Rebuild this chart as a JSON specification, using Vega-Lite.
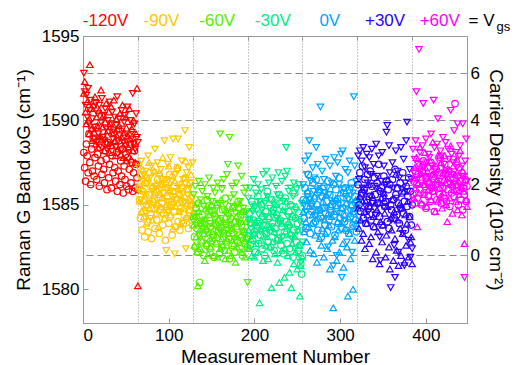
{
"$schema": "https://vega.github.io/schema/vega-lite/v6.json",
"width": 384, "height": 287,
"autosize": {"type": "none"},
"padding": {"left": 83, "top": 36, "right": 48, "bottom": 42},
"config": {
  "font": "Liberation Sans",
  "view": {"stroke": "#999"},
  "axis": {"titleFontWeight": "normal", "labelColor": "#000", "titleColor": "#000", "domainColor": "#999", "tickColor": "#999", "labelFontSize": 17, "titleFontSize": 19, "grid": false}
},
"resolve": {"axis": {"x": "independent", "y": "independent"}},
"layer": [
{
  "data": {"values": "x,y,s\n1,1588.1,o\n2,1587.2,o\n3,1586.4,o\n4,1588.6,o\n5,1587.9,o\n6,1586.9,o\n7,1589.2,o\n8,1587.5,o\n9,1586.2,o\n10,1588.3,o\n11,1587.0,o\n12,1588.9,o\n13,1586.7,o\n14,1587.8,o\n15,1589.6,o\n16,1586.5,o\n17,1588.0,o\n18,1587.3,o\n19,1586.1,o\n20,1588.4,o\n21,1587.6,o\n22,1586.8,o\n23,1589.0,o\n24,1587.1,o\n25,1586.3,o\n26,1588.2,o\n27,1587.7,o\n28,1585.9,o\n29,1588.7,o\n30,1586.6,o\n31,1587.4,o\n32,1588.5,o\n33,1586.0,o\n34,1587.9,o\n35,1586.9,o\n36,1589.3,o\n37,1587.2,o\n38,1586.4,o\n39,1588.1,o\n40,1585.8,o\n41,1587.0,o\n42,1588.8,o\n43,1586.2,o\n44,1587.6,o\n45,1586.7,o\n46,1588.3,o\n47,1585.7,o\n48,1587.3,o\n49,1586.5,o\n50,1588.0,o\n51,1586.1,o\n52,1587.8,o\n53,1585.9,o\n54,1587.1,o\n55,1588.6,o\n56,1586.3,o\n57,1587.5,o\n58,1585.8,o\n59,1586.9,o\n60,1588.2,o\n61,1586.0,o\n62,1587.4,o\n63,1586.6,o\n64,1585.9,o\n1,1592.8,d\n2,1591.7,d\n3,1590.9,d\n4,1591.5,d\n5,1590.2,d\n6,1591.9,d\n7,1589.8,d\n8,1590.6,d\n9,1591.2,d\n10,1589.4,d\n11,1590.1,d\n12,1588.9,d\n13,1590.8,d\n14,1589.6,d\n15,1591.0,d\n16,1588.7,d\n17,1590.4,d\n18,1589.2,d\n19,1590.9,d\n20,1588.5,d\n21,1589.9,d\n22,1591.3,d\n23,1589.0,d\n24,1590.3,d\n25,1588.8,d\n26,1590.7,d\n27,1589.5,d\n28,1588.3,d\n29,1590.0,d\n30,1589.3,d\n31,1591.1,d\n32,1588.6,d\n33,1589.8,d\n34,1590.5,d\n35,1588.9,d\n36,1589.4,d\n37,1590.2,d\n38,1588.4,d\n39,1589.7,d\n40,1591.4,d\n41,1588.8,d\n42,1590.1,d\n43,1589.1,d\n44,1588.2,d\n45,1590.6,d\n46,1589.5,d\n47,1588.7,d\n48,1589.9,d\n49,1590.3,d\n50,1588.5,d\n51,1589.2,d\n52,1590.8,d\n53,1588.1,d\n54,1589.6,d\n55,1590.0,d\n56,1588.9,d\n57,1589.3,d\n58,1591.6,d\n59,1588.6,d\n60,1589.8,d\n61,1588.3,d\n62,1590.4,d\n63,1589.0,d\n64,1588.7,d\n1,1591.6,u\n2,1592.3,u\n3,1590.5,u\n4,1589.8,u\n5,1591.1,u\n6,1590.0,u\n7,1589.2,u\n8,1593.3,u\n9,1590.7,u\n10,1589.5,u\n11,1588.8,u\n12,1590.9,u\n13,1589.3,u\n14,1591.4,u\n15,1588.6,u\n16,1590.2,u\n17,1589.7,u\n18,1588.4,u\n19,1590.6,u\n20,1589.1,u\n21,1591.8,u\n22,1588.9,u\n23,1589.6,u\n24,1590.3,u\n25,1588.2,u\n26,1589.9,u\n27,1591.0,u\n28,1588.7,u\n29,1589.4,u\n30,1590.5,u\n31,1588.1,u\n32,1589.8,u\n33,1590.8,u\n34,1588.5,u\n35,1589.2,u\n36,1591.2,u\n37,1588.8,u\n38,1587.9,u\n39,1590.1,u\n40,1589.5,u\n41,1588.3,u\n42,1589.7,u\n43,1590.4,u\n44,1588.0,u\n45,1589.0,u\n46,1590.9,u\n47,1587.8,u\n48,1589.3,u\n49,1588.6,u\n50,1590.2,u\n51,1587.6,u\n52,1589.1,u\n53,1588.4,u\n54,1590.7,u\n55,1588.9,u\n56,1587.7,u\n57,1589.5,u\n58,1588.2,u\n59,1590.0,u\n60,1588.7,u\n61,1587.5,u\n62,1589.2,u\n63,1591.9,u\n64,1580.2,u\n65,1586.1,o\n66,1585.3,o\n67,1584.2,o\n68,1586.7,o\n69,1583.5,o\n70,1585.8,o\n71,1584.6,o\n72,1583.1,o\n73,1586.3,o\n74,1585.0,o\n75,1584.0,o\n76,1583.4,o\n77,1585.6,o\n78,1586.9,o\n79,1584.4,o\n80,1583.0,o\n81,1585.2,o\n82,1586.0,o\n83,1584.8,o\n84,1583.6,o\n85,1585.9,o\n86,1584.1,o\n87,1586.5,o\n88,1585.4,o\n89,1583.3,o\n90,1584.7,o\n91,1586.2,o\n92,1585.1,o\n93,1583.8,o\n94,1584.5,o\n95,1585.7,o\n96,1582.9,o\n97,1586.4,o\n98,1584.9,o\n99,1585.5,o\n100,1583.9,o\n101,1586.8,o\n102,1584.3,o\n103,1585.0,o\n104,1583.2,o\n105,1585.8,o\n106,1586.1,o\n107,1584.6,o\n108,1583.7,o\n109,1585.3,o\n110,1587.2,o\n111,1584.0,o\n112,1585.6,o\n113,1583.5,o\n114,1584.8,o\n115,1586.0,o\n116,1585.2,o\n117,1583.9,o\n118,1584.4,o\n119,1586.6,o\n120,1585.1,o\n121,1584.2,o\n122,1585.9,o\n123,1583.6,o\n124,1584.7,o\n125,1586.3,o\n126,1585.4,o\n127,1584.1,o\n128,1583.8,o\n65,1587.2,d\n66,1586.0,d\n67,1585.3,d\n68,1587.6,d\n69,1586.4,d\n70,1584.9,d\n71,1586.8,d\n72,1585.6,d\n73,1587.0,d\n74,1584.5,d\n75,1586.2,d\n76,1587.9,d\n77,1585.1,d\n78,1586.6,d\n79,1584.2,d\n80,1587.3,d\n81,1585.8,d\n82,1586.9,d\n83,1585.0,d\n84,1588.3,d\n85,1586.1,d\n86,1584.7,d\n87,1587.5,d\n88,1585.4,d\n89,1586.7,d\n90,1585.9,d\n91,1587.1,d\n92,1584.4,d\n93,1586.3,d\n94,1585.7,d\n95,1588.8,d\n96,1586.5,d\n97,1582.3,d\n98,1585.2,d\n99,1587.4,d\n100,1586.0,d\n101,1584.8,d\n102,1587.8,d\n103,1585.5,d\n104,1586.4,d\n105,1588.9,d\n106,1585.0,d\n107,1582.1,d\n108,1586.8,d\n109,1585.3,d\n110,1587.0,d\n111,1588.9,d\n112,1584.6,d\n113,1586.2,d\n114,1585.8,d\n115,1587.6,d\n116,1583.9,d\n117,1586.5,d\n118,1585.1,d\n119,1589.4,d\n120,1582.4,d\n121,1586.9,d\n122,1585.6,d\n123,1587.2,d\n124,1588.4,d\n125,1584.9,d\n126,1586.3,d\n127,1585.4,d\n128,1587.5,d\n65,1586.0,u\n66,1585.2,u\n67,1586.8,u\n68,1584.6,u\n69,1585.9,u\n70,1587.1,u\n71,1584.3,u\n72,1585.5,u\n73,1586.4,u\n74,1583.9,u\n75,1585.0,u\n76,1586.6,u\n77,1587.5,u\n78,1584.8,u\n79,1585.7,u\n80,1586.1,u\n81,1584.1,u\n82,1585.3,u\n83,1587.0,u\n84,1585.8,u\n85,1584.5,u\n86,1586.3,u\n87,1585.1,u\n88,1583.7,u\n89,1586.9,u\n90,1585.6,u\n91,1584.9,u\n92,1586.2,u\n93,1587.8,u\n94,1585.4,u\n95,1584.2,u\n96,1586.5,u\n97,1585.0,u\n98,1586.0,u\n99,1584.7,u\n100,1587.3,u\n101,1585.9,u\n102,1584.4,u\n103,1586.7,u\n104,1585.2,u\n105,1583.6,u\n106,1585.8,u\n107,1586.4,u\n108,1584.9,u\n109,1585.4,u\n110,1587.2,u\n111,1586.0,u\n112,1584.6,u\n113,1585.7,u\n114,1583.9,u\n115,1586.3,u\n116,1585.1,u\n117,1584.8,u\n118,1586.6,u\n119,1585.5,u\n120,1587.6,u\n121,1584.3,u\n122,1585.9,u\n123,1586.2,u\n124,1584.7,u\n125,1585.3,u\n126,1586.8,u\n127,1585.0,u\n128,1584.5,u\n129,1584.2,o\n130,1583.1,o\n131,1582.5,o\n132,1584.8,o\n133,1583.6,o\n134,1582.2,o\n135,1585.1,o\n136,1580.4,o\n137,1583.9,o\n138,1582.8,o\n139,1584.4,o\n140,1583.3,o\n141,1582.0,o\n142,1584.0,o\n143,1583.5,o\n144,1582.6,o\n145,1585.3,o\n146,1583.0,o\n147,1584.6,o\n148,1582.4,o\n149,1583.7,o\n150,1584.9,o\n151,1582.9,o\n152,1583.2,o\n153,1581.9,o\n154,1584.3,o\n155,1583.8,o\n156,1582.7,o\n157,1585.0,o\n158,1583.4,o\n159,1582.1,o\n160,1584.1,o\n161,1583.6,o\n162,1582.5,o\n163,1584.7,o\n164,1583.1,o\n165,1582.3,o\n166,1585.4,o\n167,1583.9,o\n168,1582.8,o\n169,1584.5,o\n170,1583.0,o\n171,1581.8,o\n172,1584.2,o\n173,1583.5,o\n174,1582.6,o\n175,1584.8,o\n176,1583.3,o\n177,1582.2,o\n178,1584.0,o\n179,1583.7,o\n180,1582.9,o\n181,1585.2,o\n182,1583.2,o\n183,1582.4,o\n184,1584.4,o\n185,1583.8,o\n186,1582.0,o\n187,1584.6,o\n188,1583.4,o\n189,1582.7,o\n190,1584.1,o\n191,1583.0,o\n192,1582.5,o\n129,1585.6,d\n130,1584.3,d\n131,1586.1,d\n132,1583.8,d\n133,1585.0,d\n134,1584.5,d\n135,1586.4,d\n136,1583.2,d\n137,1585.3,d\n138,1584.0,d\n139,1585.8,d\n140,1583.6,d\n141,1584.9,d\n142,1586.2,d\n143,1584.1,d\n144,1583.4,d\n145,1585.5,d\n146,1584.7,d\n147,1586.6,d\n148,1583.9,d\n149,1584.6,d\n150,1585.2,d\n151,1583.1,d\n152,1586.0,d\n153,1584.4,d\n154,1585.7,d\n155,1583.7,d\n156,1584.8,d\n157,1586.3,d\n158,1585.1,d\n159,1583.5,d\n160,1589.2,d\n161,1584.2,d\n162,1585.9,d\n163,1583.3,d\n164,1586.5,d\n165,1584.6,d\n166,1585.0,d\n167,1583.8,d\n168,1586.8,d\n169,1587.4,d\n170,1584.3,d\n171,1589.0,d\n172,1585.4,d\n173,1583.6,d\n174,1586.1,d\n175,1584.9,d\n176,1585.6,d\n177,1583.0,d\n178,1584.5,d\n179,1586.3,d\n180,1585.0,d\n181,1587.3,d\n182,1583.9,d\n183,1585.2,d\n184,1584.4,d\n185,1586.7,d\n186,1583.4,d\n187,1584.8,d\n188,1585.7,d\n189,1583.2,d\n190,1586.0,d\n191,1584.6,d\n192,1580.4,d\n129,1583.8,u\n130,1582.6,u\n131,1584.3,u\n132,1583.1,u\n133,1582.2,u\n134,1580.2,u\n135,1584.6,u\n136,1583.5,u\n137,1582.4,u\n138,1583.9,u\n139,1582.9,u\n140,1584.1,u\n141,1583.3,u\n142,1581.7,u\n143,1584.8,u\n144,1582.7,u\n145,1583.6,u\n146,1582.1,u\n147,1584.4,u\n148,1583.0,u\n149,1582.5,u\n150,1585.0,u\n151,1583.4,u\n152,1582.0,u\n153,1583.9,u\n154,1584.5,u\n155,1582.8,u\n156,1583.2,u\n157,1581.9,u\n158,1584.2,u\n159,1583.7,u\n160,1582.4,u\n161,1585.3,u\n162,1583.0,u\n163,1582.6,u\n164,1584.0,u\n165,1583.5,u\n166,1581.8,u\n167,1584.7,u\n168,1582.9,u\n169,1583.3,u\n170,1582.3,u\n171,1584.1,u\n172,1583.8,u\n173,1582.0,u\n174,1583.6,u\n175,1584.9,u\n176,1582.7,u\n177,1583.1,u\n178,1581.6,u\n179,1584.3,u\n180,1582.5,u\n181,1583.9,u\n182,1582.8,u\n183,1585.1,u\n184,1583.2,u\n185,1582.2,u\n186,1584.6,u\n187,1583.4,u\n188,1582.9,u\n189,1581.9,u\n190,1584.0,u\n191,1583.0,u\n192,1582.4,u\n193,1583.1,o\n194,1584.5,o\n195,1582.6,o\n196,1583.9,o\n197,1585.2,o\n198,1582.9,o\n199,1584.1,o\n200,1583.4,o\n201,1582.2,o\n202,1584.8,o\n203,1583.6,o\n204,1585.5,o\n205,1582.7,o\n206,1584.0,o\n207,1583.2,o\n208,1585.0,o\n209,1582.4,o\n210,1584.3,o\n211,1583.8,o\n212,1582.0,o\n213,1584.6,o\n214,1583.3,o\n215,1585.8,o\n216,1582.8,o\n217,1584.2,o\n218,1583.5,o\n219,1582.5,o\n220,1585.3,o\n221,1583.9,o\n222,1584.7,o\n223,1582.3,o\n224,1583.6,o\n225,1585.1,o\n226,1584.4,o\n227,1582.9,o\n228,1583.0,o\n229,1585.6,o\n230,1584.1,o\n231,1582.6,o\n232,1583.7,o\n233,1584.9,o\n234,1582.1,o\n235,1583.4,o\n236,1585.4,o\n237,1584.0,o\n238,1582.7,o\n239,1583.8,o\n240,1584.6,o\n241,1582.4,o\n242,1585.0,o\n243,1583.2,o\n244,1584.3,o\n245,1581.9,o\n246,1583.5,o\n247,1585.7,o\n248,1584.2,o\n249,1582.8,o\n250,1583.9,o\n251,1582.3,o\n252,1584.5,o\n253,1582.6,o\n254,1581.5,o\n255,1580.9,o\n256,1582.0,o\n193,1585.4,d\n194,1584.1,d\n195,1586.0,d\n196,1583.6,d\n197,1585.0,d\n198,1584.6,d\n199,1586.5,d\n200,1583.2,d\n201,1584.9,d\n202,1585.7,d\n203,1583.9,d\n204,1586.2,d\n205,1584.4,d\n206,1585.2,d\n207,1583.4,d\n208,1585.9,d\n209,1584.7,d\n210,1586.8,d\n211,1583.8,d\n212,1585.1,d\n213,1584.3,d\n214,1587.0,d\n215,1585.5,d\n216,1583.5,d\n217,1586.3,d\n218,1584.8,d\n219,1585.3,d\n220,1583.7,d\n221,1586.6,d\n222,1584.5,d\n223,1585.0,d\n224,1583.3,d\n225,1586.1,d\n226,1584.2,d\n227,1585.6,d\n228,1586.9,d\n229,1583.9,d\n230,1585.4,d\n231,1584.0,d\n232,1586.4,d\n233,1583.1,d\n234,1585.2,d\n235,1584.6,d\n236,1586.7,d\n237,1588.4,d\n238,1587.0,d\n239,1584.3,d\n240,1585.8,d\n241,1583.6,d\n242,1586.0,d\n243,1584.9,d\n244,1583.0,d\n245,1585.5,d\n246,1586.3,d\n247,1582.4,d\n248,1584.7,d\n249,1585.9,d\n250,1583.4,d\n251,1582.1,d\n252,1586.2,d\n253,1584.0,d\n254,1581.6,d\n255,1585.1,d\n256,1582.8,d\n193,1583.5,u\n194,1582.4,u\n195,1584.2,u\n196,1583.0,u\n197,1582.0,u\n198,1584.8,u\n199,1583.3,u\n200,1581.9,u\n201,1584.0,u\n202,1582.7,u\n203,1583.8,u\n204,1582.2,u\n205,1585.1,u\n206,1579.2,u\n207,1583.6,u\n208,1582.9,u\n209,1584.5,u\n210,1581.7,u\n211,1583.2,u\n212,1584.1,u\n213,1582.6,u\n214,1585.4,u\n215,1583.1,u\n216,1581.8,u\n217,1584.3,u\n218,1582.5,u\n219,1583.7,u\n220,1580.1,u\n221,1582.8,u\n222,1584.6,u\n223,1583.4,u\n224,1582.1,u\n225,1585.0,u\n226,1583.0,u\n227,1581.6,u\n228,1584.2,u\n229,1580.4,u\n230,1582.9,u\n231,1583.9,u\n232,1582.3,u\n233,1584.7,u\n234,1583.2,u\n235,1580.7,u\n236,1582.4,u\n237,1585.2,u\n238,1583.6,u\n239,1582.0,u\n240,1584.0,u\n241,1581.0,u\n242,1583.3,u\n243,1580.1,u\n244,1582.7,u\n245,1584.4,u\n246,1581.5,u\n247,1583.1,u\n248,1582.2,u\n249,1584.9,u\n250,1581.2,u\n251,1583.5,u\n252,1582.6,u\n253,1579.6,u\n254,1581.4,u\n255,1583.8,u\n256,1581.9,u\n257,1585.3,o\n258,1584.2,o\n259,1586.0,o\n260,1583.6,o\n261,1584.9,o\n262,1585.7,o\n263,1586.8,o\n264,1584.4,o\n265,1583.3,o\n266,1585.1,o\n267,1584.6,o\n268,1586.3,o\n269,1583.9,o\n270,1585.4,o\n271,1584.0,o\n272,1586.5,o\n273,1585.0,o\n274,1583.5,o\n275,1584.7,o\n276,1585.8,o\n277,1584.3,o\n278,1583.1,o\n279,1585.5,o\n280,1584.8,o\n281,1586.1,o\n282,1583.8,o\n283,1584.5,o\n284,1585.2,o\n285,1583.4,o\n286,1586.4,o\n287,1584.1,o\n288,1585.6,o\n289,1584.9,o\n290,1583.7,o\n291,1585.0,o\n292,1586.2,o\n293,1584.4,o\n294,1583.2,o\n295,1585.9,o\n296,1584.6,o\n297,1585.3,o\n298,1583.9,o\n299,1586.6,o\n300,1584.2,o\n301,1585.1,o\n302,1583.6,o\n303,1584.8,o\n304,1585.7,o\n305,1584.0,o\n306,1586.0,o\n307,1583.5,o\n308,1585.4,o\n309,1584.7,o\n310,1583.3,o\n311,1585.9,o\n312,1584.3,o\n313,1586.3,o\n314,1585.0,o\n315,1583.8,o\n316,1584.6,o\n317,1585.5,o\n318,1584.1,o\n319,1583.4,o\n320,1585.2,o\n257,1586.2,d\n258,1585.0,d\n259,1587.6,d\n260,1584.6,d\n261,1586.8,d\n262,1585.5,d\n263,1587.9,d\n264,1588.8,d\n265,1585.3,d\n266,1586.4,d\n267,1584.9,d\n268,1587.2,d\n269,1585.8,d\n270,1586.6,d\n271,1584.3,d\n272,1588.4,d\n273,1585.9,d\n274,1587.4,d\n275,1584.7,d\n276,1586.1,d\n277,1590.8,d\n278,1585.4,d\n279,1587.0,d\n280,1584.2,d\n281,1586.5,d\n282,1585.7,d\n283,1587.7,d\n284,1584.8,d\n285,1586.0,d\n286,1582.5,d\n287,1585.6,d\n288,1587.3,d\n289,1584.4,d\n290,1586.3,d\n291,1585.1,d\n292,1581.4,d\n293,1587.8,d\n294,1585.2,d\n295,1586.7,d\n296,1582.0,d\n297,1587.5,d\n298,1585.0,d\n299,1586.2,d\n300,1584.5,d\n301,1588.0,d\n302,1580.7,d\n303,1588.2,d\n304,1585.9,d\n305,1584.1,d\n306,1587.1,d\n307,1585.5,d\n308,1582.8,d\n309,1586.9,d\n310,1585.3,d\n311,1587.6,d\n312,1584.6,d\n313,1586.0,d\n314,1582.2,d\n315,1585.7,d\n316,1591.4,d\n317,1587.3,d\n318,1585.1,d\n319,1586.4,d\n320,1584.8,d\n257,1584.6,u\n258,1583.4,u\n259,1585.3,u\n260,1584.0,u\n261,1582.8,u\n262,1585.8,u\n263,1583.7,u\n264,1584.9,u\n265,1582.3,u\n266,1585.1,u\n267,1583.9,u\n268,1584.4,u\n269,1582.1,u\n270,1585.5,u\n271,1583.2,u\n272,1584.7,u\n273,1581.6,u\n274,1584.2,u\n275,1585.9,u\n276,1583.0,u\n277,1584.8,u\n278,1582.6,u\n279,1583.6,u\n280,1585.2,u\n281,1581.9,u\n282,1584.1,u\n283,1583.3,u\n284,1585.6,u\n285,1582.4,u\n286,1584.5,u\n287,1583.8,u\n288,1581.2,u\n289,1585.0,u\n290,1584.3,u\n291,1582.9,u\n292,1578.9,u\n293,1584.6,u\n294,1583.1,u\n295,1585.4,u\n296,1581.7,u\n297,1584.0,u\n298,1583.5,u\n299,1582.2,u\n300,1585.7,u\n301,1583.9,u\n302,1584.8,u\n303,1582.7,u\n304,1581.3,u\n305,1584.4,u\n306,1583.6,u\n307,1585.1,u\n308,1582.5,u\n309,1579.6,u\n310,1584.2,u\n311,1583.3,u\n312,1581.8,u\n313,1585.0,u\n314,1583.7,u\n315,1580.0,u\n316,1584.5,u\n317,1582.9,u\n318,1585.3,u\n319,1583.9,u\n320,1584.1,u\n321,1586.2,o\n322,1585.0,o\n323,1586.9,o\n324,1584.6,o\n325,1585.7,o\n326,1587.3,o\n327,1584.2,o\n328,1585.9,o\n329,1586.5,o\n330,1583.9,o\n331,1585.3,o\n332,1586.8,o\n333,1584.8,o\n334,1585.5,o\n335,1587.0,o\n336,1584.1,o\n337,1586.1,o\n338,1585.2,o\n339,1583.7,o\n340,1586.6,o\n341,1585.6,o\n342,1584.5,o\n343,1586.3,o\n344,1585.1,o\n345,1587.4,o\n346,1584.3,o\n347,1585.8,o\n348,1586.0,o\n349,1583.8,o\n350,1585.4,o\n351,1586.7,o\n352,1584.9,o\n353,1585.2,o\n354,1586.4,o\n355,1584.0,o\n356,1585.9,o\n357,1583.6,o\n358,1586.2,o\n359,1585.0,o\n360,1584.7,o\n361,1586.5,o\n362,1585.3,o\n363,1584.2,o\n364,1587.1,o\n365,1585.6,o\n366,1584.4,o\n367,1586.0,o\n368,1585.1,o\n369,1583.9,o\n370,1586.3,o\n371,1584.8,o\n372,1585.7,o\n373,1586.9,o\n374,1584.5,o\n375,1585.2,o\n376,1583.5,o\n377,1586.1,o\n378,1584.9,o\n379,1585.5,o\n380,1586.6,o\n381,1584.3,o\n382,1585.8,o\n383,1583.8,o\n384,1585.0,o\n321,1587.9,d\n322,1586.5,d\n323,1588.2,d\n324,1585.3,d\n325,1587.6,d\n326,1586.0,d\n327,1588.4,d\n328,1585.7,d\n329,1587.2,d\n330,1584.9,d\n331,1588.0,d\n332,1586.3,d\n333,1584.6,d\n334,1587.8,d\n335,1585.5,d\n336,1586.8,d\n337,1588.3,d\n338,1585.1,d\n339,1587.4,d\n340,1586.1,d\n341,1584.4,d\n342,1588.6,d\n343,1586.7,d\n344,1585.0,d\n345,1587.9,d\n346,1583.1,d\n347,1581.7,d\n348,1586.4,d\n349,1588.1,d\n350,1585.6,d\n351,1587.3,d\n352,1584.8,d\n353,1586.2,d\n354,1589.3,d\n355,1589.7,d\n356,1585.2,d\n357,1588.5,d\n358,1586.9,d\n359,1580.1,d\n360,1584.1,d\n361,1587.5,d\n362,1586.0,d\n363,1582.6,d\n364,1580.7,d\n365,1588.2,d\n366,1585.4,d\n367,1587.0,d\n368,1582.2,d\n369,1586.6,d\n370,1584.7,d\n371,1588.4,d\n372,1585.9,d\n373,1583.3,d\n374,1587.7,d\n375,1581.4,d\n376,1586.3,d\n377,1588.8,d\n378,1589.9,d\n379,1585.8,d\n380,1582.9,d\n381,1587.1,d\n382,1581.9,d\n383,1586.5,d\n384,1582.4,d\n321,1584.8,u\n322,1583.6,u\n323,1585.5,u\n324,1584.1,u\n325,1582.9,u\n326,1585.9,u\n327,1583.3,u\n328,1584.6,u\n329,1582.4,u\n330,1585.2,u\n331,1583.9,u\n332,1584.4,u\n333,1586.2,u\n334,1582.7,u\n335,1584.9,u\n336,1583.1,u\n337,1585.6,u\n338,1581.8,u\n339,1584.3,u\n340,1583.7,u\n341,1585.1,u\n342,1582.2,u\n343,1584.7,u\n344,1583.4,u\n345,1586.0,u\n346,1581.5,u\n347,1584.0,u\n348,1585.4,u\n349,1582.8,u\n350,1583.8,u\n351,1585.7,u\n352,1584.5,u\n353,1581.9,u\n354,1583.2,u\n355,1584.9,u\n356,1586.5,u\n357,1582.5,u\n358,1581.2,u\n359,1584.2,u\n360,1583.5,u\n361,1585.3,u\n362,1581.7,u\n363,1584.6,u\n364,1583.0,u\n365,1586.8,u\n366,1582.3,u\n367,1584.1,u\n368,1581.4,u\n369,1585.0,u\n370,1583.6,u\n371,1582.0,u\n372,1584.8,u\n373,1583.3,u\n374,1585.8,u\n375,1581.6,u\n376,1584.4,u\n377,1582.6,u\n378,1583.9,u\n379,1585.2,u\n380,1581.9,u\n381,1584.3,u\n382,1582.8,u\n383,1583.1,u\n384,1581.5,u\n385,1585.6,o\n386,1586.4,o\n387,1585.1,o\n388,1587.0,o\n389,1586.2,o\n390,1585.4,o\n391,1586.8,o\n392,1587.3,o\n393,1585.9,o\n394,1586.5,o\n395,1585.0,o\n396,1586.9,o\n397,1587.6,o\n398,1585.7,o\n399,1586.1,o\n400,1584.8,o\n401,1586.6,o\n402,1587.2,o\n403,1585.5,o\n404,1586.3,o\n405,1585.2,o\n406,1587.5,o\n407,1586.0,o\n408,1585.8,o\n409,1586.7,o\n410,1584.6,o\n411,1586.2,o\n412,1587.1,o\n413,1585.3,o\n414,1586.9,o\n415,1586.4,o\n416,1585.6,o\n417,1587.8,o\n418,1585.1,o\n419,1586.5,o\n420,1586.0,o\n421,1585.4,o\n422,1587.4,o\n423,1586.8,o\n424,1585.2,o\n425,1586.3,o\n426,1585.9,o\n427,1587.0,o\n428,1584.9,o\n429,1586.6,o\n430,1585.7,o\n431,1586.1,o\n432,1587.7,o\n433,1585.5,o\n434,1591.0,o\n435,1586.2,o\n436,1585.8,o\n437,1586.7,o\n438,1585.0,o\n439,1587.2,o\n440,1586.4,o\n441,1585.3,o\n442,1586.9,o\n443,1584.7,o\n444,1586.0,o\n445,1585.6,o\n446,1586.5,o\n447,1585.2,o\n448,1586.1,o\n385,1588.3,d\n386,1586.9,d\n387,1587.7,d\n388,1588.8,d\n389,1591.7,d\n390,1586.5,d\n391,1587.4,d\n392,1594.2,d\n393,1588.1,d\n394,1587.0,d\n395,1586.3,d\n396,1588.5,d\n397,1591.0,d\n398,1587.2,d\n399,1586.7,d\n400,1588.9,d\n401,1587.5,d\n402,1586.2,d\n403,1588.0,d\n404,1587.8,d\n405,1586.6,d\n406,1589.2,d\n407,1587.3,d\n408,1586.0,d\n409,1591.2,d\n410,1588.4,d\n411,1587.1,d\n412,1586.8,d\n413,1588.6,d\n414,1590.1,d\n415,1587.6,d\n416,1586.4,d\n417,1588.2,d\n418,1587.9,d\n419,1586.1,d\n420,1589.0,d\n421,1587.4,d\n422,1586.9,d\n423,1588.7,d\n424,1587.0,d\n425,1586.5,d\n426,1588.3,d\n427,1587.7,d\n428,1586.2,d\n429,1590.6,d\n430,1588.0,d\n431,1586.8,d\n432,1587.5,d\n433,1589.4,d\n434,1586.3,d\n435,1588.1,d\n436,1587.2,d\n437,1589.8,d\n438,1586.6,d\n439,1587.9,d\n440,1588.5,d\n441,1586.0,d\n442,1587.3,d\n443,1589.8,d\n444,1586.7,d\n445,1580.7,d\n446,1587.6,d\n447,1588.9,d\n448,1586.4,d\n385,1586.6,u\n386,1585.4,u\n387,1587.2,u\n388,1586.0,u\n389,1587.8,u\n390,1583.7,u\n391,1586.3,u\n392,1585.7,u\n393,1588.4,u\n394,1586.9,u\n395,1585.1,u\n396,1587.4,u\n397,1586.2,u\n398,1585.6,u\n399,1588.1,u\n400,1586.7,u\n401,1584.9,u\n402,1587.0,u\n403,1585.9,u\n404,1586.4,u\n405,1587.6,u\n406,1585.3,u\n407,1586.8,u\n408,1588.7,u\n409,1585.8,u\n410,1586.1,u\n411,1584.6,u\n412,1587.3,u\n413,1586.5,u\n414,1585.2,u\n415,1588.0,u\n416,1586.0,u\n417,1585.5,u\n418,1587.5,u\n419,1584.8,u\n420,1586.9,u\n421,1585.7,u\n422,1587.9,u\n423,1586.3,u\n424,1585.0,u\n425,1584.0,u\n426,1586.6,u\n427,1587.1,u\n428,1585.4,u\n429,1588.5,u\n430,1586.2,u\n431,1584.5,u\n432,1587.3,u\n433,1585.9,u\n434,1586.8,u\n435,1585.2,u\n436,1587.7,u\n437,1584.7,u\n438,1586.4,u\n439,1585.6,u\n440,1588.2,u\n441,1586.0,u\n442,1584.4,u\n443,1587.0,u\n444,1585.8,u\n445,1582.7,u\n446,1586.5,u\n447,1585.3,u\n448,1584.9,u\n", "format": {"type": "csv", "parse": {"x": "number", "y": "number"}}},
  "mark": {"type": "point", "filled": false, "size": 42, "strokeWidth": 1.2, "opacity": 1},
  "encoding": {
    "x": {"field": "x", "type": "quantitative", "scale": {"domain": [0, 448], "nice": false, "zero": false},
          "axis": {"orient": "bottom", "values": [0, 100, 200, 300, 400], "format": "d", "title": "Measurement Number", "tickSize": -5, "labelPadding": 9, "titlePadding": 4}},
    "y": {"field": "y", "type": "quantitative", "scale": {"domain": [1578, 1595], "nice": false, "zero": false},
          "axis": {"orient": "left", "values": [1580, 1585, 1590, 1595], "format": "d", "title": "Raman G Band ωG (cm⁻¹)", "tickSize": -5, "labelPadding": 9, "titlePadding": 8}},
    "color": {"field": "x", "type": "quantitative", "legend": null,
              "scale": {"type": "threshold", "domain": [64.5, 128.5, 192.5, 256.5, 320.5, 384.5, 448.5], "range": ["#FF0000", "#FFC800", "#55EE00", "#00EE88", "#00A6FF", "#2B00FF", "#FF00FF", "#000000"]}},
    "shape": {"field": "s", "type": "nominal", "legend": null,
              "scale": {"domain": ["o", "u", "d"], "range": ["circle", "triangle-up", "triangle-down"]}}
  }
},
{
  "data": {"values": [
    {"label": "-120V", "x": 26.3, "y": 1595.6},
    {"label": "-90V", "x": 91.5, "y": 1595.6},
    {"label": "-60V", "x": 156.6, "y": 1595.6},
    {"label": "-30V", "x": 221.4, "y": 1595.6},
    {"label": "0V", "x": 287.9, "y": 1595.6},
    {"label": "+30V", "x": 352.4, "y": 1595.6},
    {"label": "+60V", "x": 416.2, "y": 1595.6},
    {"label": "= V", "x": 464.9, "y": 1595.6}
  ]},
  "mark": {"type": "text", "fontSize": 17, "baseline": "alphabetic", "align": "center"},
  "encoding": {
    "x": {"field": "x", "type": "quantitative", "scale": {"domain": [0, 448], "nice": false, "zero": false},
          "axis": {"orient": "top", "values": [64, 128, 192, 256, 320, 384], "labels": false, "title": null, "domain": false, "tickSize": -4, "grid": true, "gridDash": [1, 2], "gridColor": "#999", "gridWidth": 1}},
    "y": {"field": "y", "type": "quantitative", "scale": {"domain": [1578, 1595], "nice": false, "zero": false},
          "axis": {"orient": "right", "values": [1582, 1586.2, 1590, 1592.8], "labelExpr": "datum.value == 1582 ? '0' : datum.value == 1586.2 ? '2' : datum.value == 1590 ? '4' : '6'", "title": "Carrier Density (10¹² cm⁻²)", "domain": false, "tickSize": -5, "labelPadding": 8, "titlePadding": 6, "grid": true, "gridDash": [7, 4], "gridColor": "#888", "gridWidth": 1}},
    "text": {"field": "label"},
    "color": {"field": "x", "type": "quantitative", "legend": null,
              "scale": {"type": "threshold", "domain": [64.5, 128.5, 192.5, 256.5, 320.5, 384.5, 448.5], "range": ["#FF0000", "#FFC800", "#55EE00", "#00EE88", "#00A6FF", "#2B00FF", "#FF00FF", "#000000"]}}
  }
},
{
  "data": {"values": [{"label": "gs", "x": 490.5, "y": 1595.3}]},
  "mark": {"type": "text", "fontSize": 13, "baseline": "alphabetic", "align": "center", "color": "#000"},
  "encoding": {
    "x": {"field": "x", "type": "quantitative", "scale": {"domain": [0, 448], "nice": false, "zero": false}, "axis": null},
    "y": {"field": "y", "type": "quantitative", "scale": {"domain": [1578, 1595], "nice": false, "zero": false}, "axis": null},
    "text": {"field": "label"}
  }
}
]
}
